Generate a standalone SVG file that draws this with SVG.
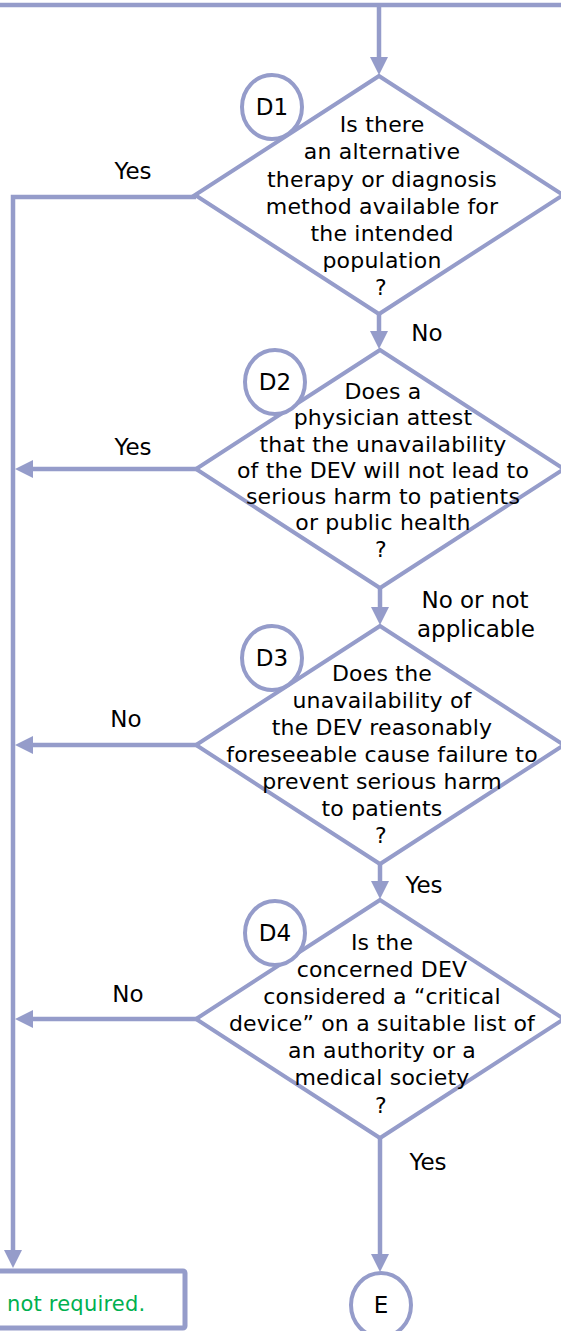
<svg xmlns="http://www.w3.org/2000/svg" width="561" height="1331" viewBox="0 0 561 1331">
  <style>
    .line { fill: none; stroke: #959cca; stroke-width: 4.5; }
    .shape { fill: #ffffff; stroke: #959cca; stroke-width: 4; }
    .box { fill: #ffffff; stroke: #959cca; stroke-width: 5; }
    .q { font-family: "DejaVu Sans", Verdana, sans-serif; font-size: 22px; letter-spacing: 0.2px; fill: #000000; text-anchor: middle; }
    .lbl { font-family: "DejaVu Sans", Verdana, sans-serif; font-size: 23px; fill: #000000; text-anchor: middle; }
    .tag { font-family: "DejaVu Sans", Verdana, sans-serif; font-size: 23px; fill: #000000; text-anchor: middle; }
    .ok { font-family: "DejaVu Sans", Verdana, sans-serif; font-size: 21px; letter-spacing: 0.2px; fill: #00b050; }
  </style>
  <defs>
    <marker id="arrow" viewBox="0 0 18 18" refX="8" refY="9" markerWidth="18" markerHeight="18" markerUnits="userSpaceOnUse" orient="auto">
      <path d="M0,0 L18,9 L0,18 z" fill="#959cca"/>
    </marker>
  </defs>

  <!-- connectors -->
  <g id="connectors">
    <path class="line" d="M0 5 H561" stroke-width="5"/>
    <path class="line" d="M379 5 V65" marker-end="url(#arrow)"/>
    <path class="line" d="M379 314 V339" marker-end="url(#arrow)"/>
    <path class="line" d="M380 588 V615" marker-end="url(#arrow)"/>
    <path class="line" d="M380 862 V889" marker-end="url(#arrow)"/>
    <path class="line" d="M380 1138 V1262" marker-end="url(#arrow)"/>
    <path class="line" d="M196 197 H13 V1258" marker-end="url(#arrow)"/>
    <path class="line" d="M197 469 H25" marker-end="url(#arrow)"/>
    <path class="line" d="M197 745 H25" marker-end="url(#arrow)"/>
    <path class="line" d="M197 1019 H25" marker-end="url(#arrow)"/>
    <!-- connector labels -->
    <text class="lbl" x="133" y="179">Yes</text>
    <text class="lbl" x="427" y="341">No</text>
    <text class="lbl" x="133" y="455">Yes</text>
    <text class="lbl" x="475" y="608">No or not</text>
    <text class="lbl" x="476" y="637">applicable</text>
    <text class="lbl" x="126" y="727">No</text>
    <text class="lbl" x="424" y="893">Yes</text>
    <text class="lbl" x="128" y="1002">No</text>
    <text class="lbl" x="428" y="1170">Yes</text>
  </g>

  <!-- decision D1 -->
  <g id="d1">
    <polygon class="shape" points="379,76 563,195 379,314 195,195"/>
    <text class="q" x="382" y="132">Is there</text>
    <text class="q" x="382" y="159">an alternative</text>
    <text class="q" x="382" y="187">therapy or diagnosis</text>
    <text class="q" x="382" y="214">method available for</text>
    <text class="q" x="382" y="241">the intended</text>
    <text class="q" x="382" y="268">population</text>
    <text class="q" x="381" y="295">?</text>
    <ellipse class="shape" cx="272" cy="107" rx="30" ry="32"/>
    <text class="tag" x="272" y="115">D1</text>
  </g>

  <!-- decision D2 -->
  <g id="d2">
    <polygon class="shape" points="380,350 564,469 380,588 196,469"/>
    <text class="q" x="383" y="399">Does a</text>
    <text class="q" x="383" y="425">physician attest</text>
    <text class="q" x="383" y="452">that the unavailability</text>
    <text class="q" x="383" y="478">of the DEV will not lead to</text>
    <text class="q" x="383" y="504">serious harm to patients</text>
    <text class="q" x="383" y="530">or public health</text>
    <text class="q" x="381" y="557">?</text>
    <ellipse class="shape" cx="275" cy="382" rx="30" ry="32"/>
    <text class="tag" x="275" y="390">D2</text>
  </g>

  <!-- decision D3 -->
  <g id="d3">
    <polygon class="shape" points="380,626 564,745 380,864 196,745"/>
    <text class="q" x="382" y="681">Does the</text>
    <text class="q" x="382" y="708">unavailability of</text>
    <text class="q" x="382" y="735">the DEV reasonably</text>
    <text class="q" x="382" y="762">foreseeable cause failure to</text>
    <text class="q" x="382" y="789">prevent serious harm</text>
    <text class="q" x="382" y="816">to patients</text>
    <text class="q" x="381" y="843">?</text>
    <ellipse class="shape" cx="272" cy="658" rx="30" ry="32"/>
    <text class="tag" x="272" y="666">D3</text>
  </g>

  <!-- decision D4 -->
  <g id="d4">
    <polygon class="shape" points="380,900 564,1019 380,1138 196,1019"/>
    <text class="q" x="382" y="950">Is the</text>
    <text class="q" x="382" y="977">concerned DEV</text>
    <text class="q" x="382" y="1004">considered a “critical</text>
    <text class="q" x="382" y="1031">device” on a suitable list of</text>
    <text class="q" x="382" y="1058">an authority or a</text>
    <text class="q" x="382" y="1085">medical society</text>
    <text class="q" x="381" y="1113">?</text>
    <ellipse class="shape" cx="275" cy="933" rx="30" ry="32"/>
    <text class="tag" x="275" y="941">D4</text>
  </g>

  <!-- outcome box (left) -->
  <g id="not-required">
    <rect class="box" x="-6" y="1271" width="191" height="57" rx="2"/>
    <text class="ok" x="7" y="1311">not required.</text>
  </g>

  <!-- connector E -->
  <g id="e">
    <ellipse class="shape" cx="381" cy="1305" rx="30" ry="32"/>
    <text class="tag" x="381" y="1313">E</text>
  </g>
</svg>
